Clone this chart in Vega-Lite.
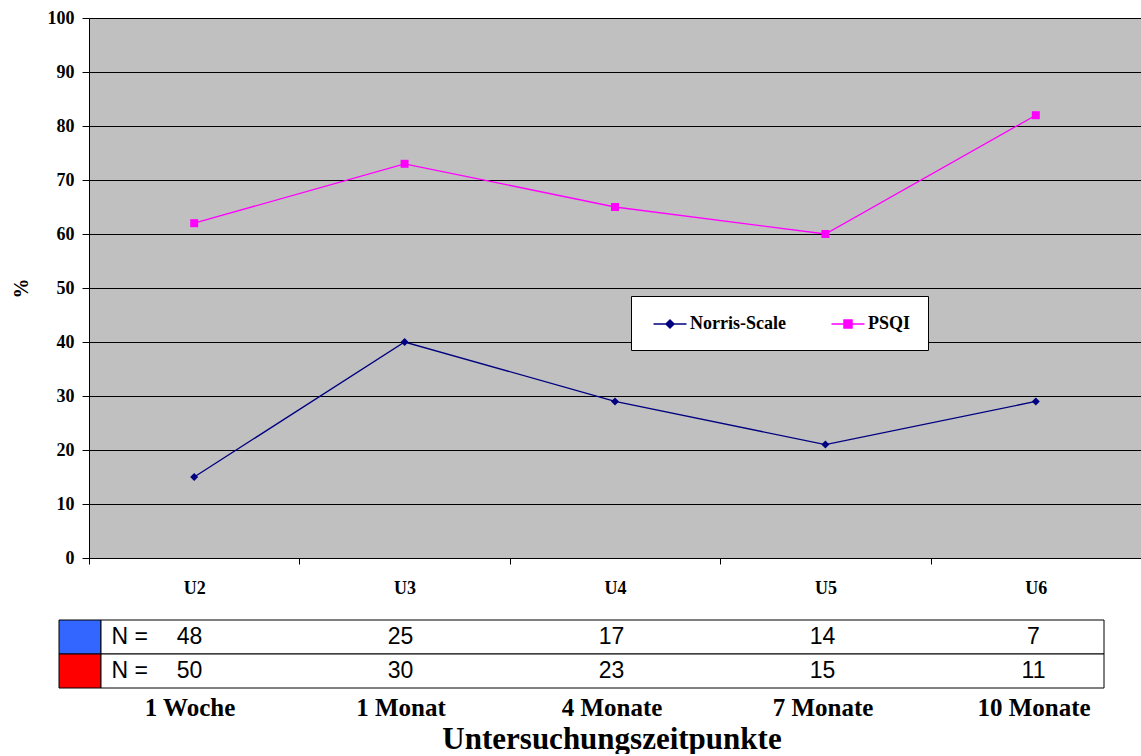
{
  "$schema": "https://vega.github.io/schema/vega-lite/v6.json",
  "padding": {"left": 11, "top": 9, "right": 0, "bottom": 0},
  "autosize": {"type": "pad"},
  "background": "white",
  "config": {
    "view": {"stroke": null},
    "font": "Liberation Serif",
    "legend": {
      "orient": "none",
      "direction": "horizontal",
      "fillColor": "white",
      "strokeColor": "black",
      "padding": 17,
      "labelFont": "Liberation Serif",
      "labelFontWeight": "bold",
      "labelFontSize": 18,
      "labelColor": "black",
      "labelLimit": 300,
      "labelOffset": 20,
      "columnPadding": 40,
      "symbolSize": 400,
      "symbolStrokeWidth": 1.5,
      "symbolOpacity": 1
    }
  },
  "spacing": 22,
  "resolve": {"scale": {"x": "independent", "y": "independent"}},
  "vconcat": [
    {
      "spacing": 0,
      "bounds": "flush",
      "resolve": {"scale": {"x": "independent", "y": "independent"}},
      "hconcat": [
        {
          "width": 30,
          "height": 540,
          "data": {"values": [{}]},
          "mark": {"type": "point", "opacity": 0},
          "encoding": {}
        },
        {
          "width": 1052,
          "height": 540,
          "view": {"fill": "#C0C0C0", "stroke": null},
          "data": {
            "values": [
              {"zeitpunkt": "U2", "skala": "Norris-Scale", "prozent": 15},
              {"zeitpunkt": "U3", "skala": "Norris-Scale", "prozent": 40},
              {"zeitpunkt": "U4", "skala": "Norris-Scale", "prozent": 29},
              {"zeitpunkt": "U5", "skala": "Norris-Scale", "prozent": 21},
              {"zeitpunkt": "U6", "skala": "Norris-Scale", "prozent": 29},
              {"zeitpunkt": "U2", "skala": "PSQI", "prozent": 62},
              {"zeitpunkt": "U3", "skala": "PSQI", "prozent": 73},
              {"zeitpunkt": "U4", "skala": "PSQI", "prozent": 65},
              {"zeitpunkt": "U5", "skala": "PSQI", "prozent": 60},
              {"zeitpunkt": "U6", "skala": "PSQI", "prozent": 82}
            ]
          },
          "encoding": {
            "x": {
              "field": "zeitpunkt",
              "type": "nominal",
              "sort": null,
              "scale": {"paddingInner": 0, "paddingOuter": 0},
              "axis": {
                "title": null,
                "tickBand": "extent",
                "grid": false,
                "domainColor": "black",
                "tickColor": "black",
                "tickSize": 6,
                "labelAngle": 0,
                "labelFont": "Liberation Serif",
                "labelFontWeight": "bold",
                "labelFontSize": 18,
                "labelColor": "black",
                "labelPadding": 15
              }
            },
            "y": {
              "field": "prozent",
              "type": "quantitative",
              "scale": {"domain": [0, 100]},
              "axis": {
                "title": "%",
                "values": [0, 10, 20, 30, 40, 50, 60, 70, 80, 90, 100],
                "grid": true,
                "gridColor": "black",
                "gridOpacity": 1,
                "gridWidth": 1,
                "domainColor": "black",
                "tickColor": "black",
                "tickSize": 7,
                "labelFont": "Liberation Serif",
                "labelFontWeight": "bold",
                "labelFontSize": 18,
                "labelColor": "black",
                "labelPadding": 8,
                "titleFont": "Liberation Serif",
                "titleFontWeight": "bold",
                "titleFontSize": 20,
                "titleColor": "black",
                "titlePadding": 16
              }
            },
            "color": {
              "field": "skala",
              "type": "nominal",
              "scale": {"domain": ["Norris-Scale", "PSQI"], "range": ["#000080", "#FF00FF"]},
              "legend": {"title": null, "legendX": 572, "legendY": 278}
            }
          },
          "layer": [
            {"mark": {"type": "line", "strokeWidth": 1.3}},
            {
              "transform": [{"filter": "datum.skala === 'Norris-Scale'"}],
              "mark": {"type": "point", "shape": "diamond", "filled": true, "opacity": 1, "size": 64}
            },
            {
              "transform": [{"filter": "datum.skala === 'PSQI'"}],
              "mark": {"type": "point", "shape": "square", "filled": true, "opacity": 1, "size": 64}
            },
            {
              "mark": {"type": "point", "filled": true, "opacity": 1, "size": 0},
              "encoding": {
                "shape": {
                  "field": "skala",
                  "type": "nominal",
                  "scale": {
                    "domain": ["Norris-Scale", "PSQI"],
                    "range": ["M-0.55,0H2.75M0.7,0L1.1,-0.4L1.5,0L1.1,0.4Z", "M-0.55,0H2.75M0.7,-0.4H1.5V0.4H0.7Z"]
                  },
                  "legend": {"title": null, "legendX": 572, "legendY": 278}
                }
              }
            }
          ]
        }
      ]
    },
    {
      "spacing": 0,
      "bounds": "flush",
      "resolve": {"scale": {"x": "independent", "y": "independent"}},
      "hconcat": [
        {
          "width": 42,
          "height": 68,
          "data": {"values": [{"skala": "Norris-Scale"}, {"skala": "PSQI"}]},
          "mark": {"type": "rect", "stroke": "black", "strokeWidth": 1},
          "encoding": {
            "y": {"field": "skala", "type": "nominal", "sort": null, "scale": {"paddingInner": 0, "paddingOuter": 0}, "axis": null},
            "fill": {
              "field": "skala",
              "type": "nominal",
              "scale": {"domain": ["Norris-Scale", "PSQI"], "range": ["#3366FF", "#FF0000"]},
              "legend": null
            }
          }
        },
        {
          "width": 1003,
          "height": 68,
          "encoding": {
            "y": {"field": "skala", "type": "nominal", "sort": null, "scale": {"domain": ["Norris-Scale", "PSQI"], "paddingInner": 0, "paddingOuter": 0}, "axis": null}
          },
          "layer": [
            {
              "data": {"values": [{"skala": "Norris-Scale"}, {"skala": "PSQI"}]},
              "mark": {"type": "rect", "fill": "white", "stroke": "black", "strokeWidth": 1}
            },
            {
              "data": {
                "values": [
                  {"zeit": "1 Woche", "skala": "Norris-Scale", "n": 48},
                  {"zeit": "1 Monat", "skala": "Norris-Scale", "n": 25},
                  {"zeit": "4 Monate", "skala": "Norris-Scale", "n": 17},
                  {"zeit": "7 Monate", "skala": "Norris-Scale", "n": 14},
                  {"zeit": "10 Monate", "skala": "Norris-Scale", "n": 7},
                  {"zeit": "1 Woche", "skala": "PSQI", "n": 50},
                  {"zeit": "1 Monat", "skala": "PSQI", "n": 30},
                  {"zeit": "4 Monate", "skala": "PSQI", "n": 23},
                  {"zeit": "7 Monate", "skala": "PSQI", "n": 15},
                  {"zeit": "10 Monate", "skala": "PSQI", "n": 11}
                ]
              },
              "mark": {"type": "text", "font": "Liberation Sans", "fontSize": 23, "color": "black", "baseline": "middle"},
              "encoding": {
                "x": {
                  "field": "zeit",
                  "type": "nominal",
                  "sort": null,
                  "scale": {"domain": ["1 Woche", "1 Monat", "4 Monate", "7 Monate", "10 Monate"], "range": [-17, 1038], "paddingInner": 0, "paddingOuter": 0},
                  "axis": {
                    "orient": "bottom",
                    "domain": false,
                    "ticks": false,
                    "tickSize": 0,
                    "labelAngle": 0,
                    "labelFont": "Liberation Serif",
                    "labelFontWeight": "bold",
                    "labelFontSize": 25,
                    "labelColor": "black",
                    "labelPadding": 7,
                    "title": "Untersuchungszeitpunkte",
                    "titleFont": "Liberation Serif",
                    "titleFontWeight": "bold",
                    "titleFontSize": 31,
                    "titleColor": "black",
                    "titlePadding": 4
                  }
                },
                "text": {"field": "n", "type": "quantitative"}
              }
            },
            {
              "data": {"values": [{"skala": "Norris-Scale"}, {"skala": "PSQI"}]},
              "mark": {"type": "text", "font": "Liberation Sans", "fontSize": 23, "color": "black", "align": "left", "baseline": "middle", "dx": -78},
              "encoding": {
                "x": {"datum": "1 Woche", "type": "nominal"},
                "text": {"value": "N ="}
              }
            }
          ]
        }
      ]
    }
  ]
}
